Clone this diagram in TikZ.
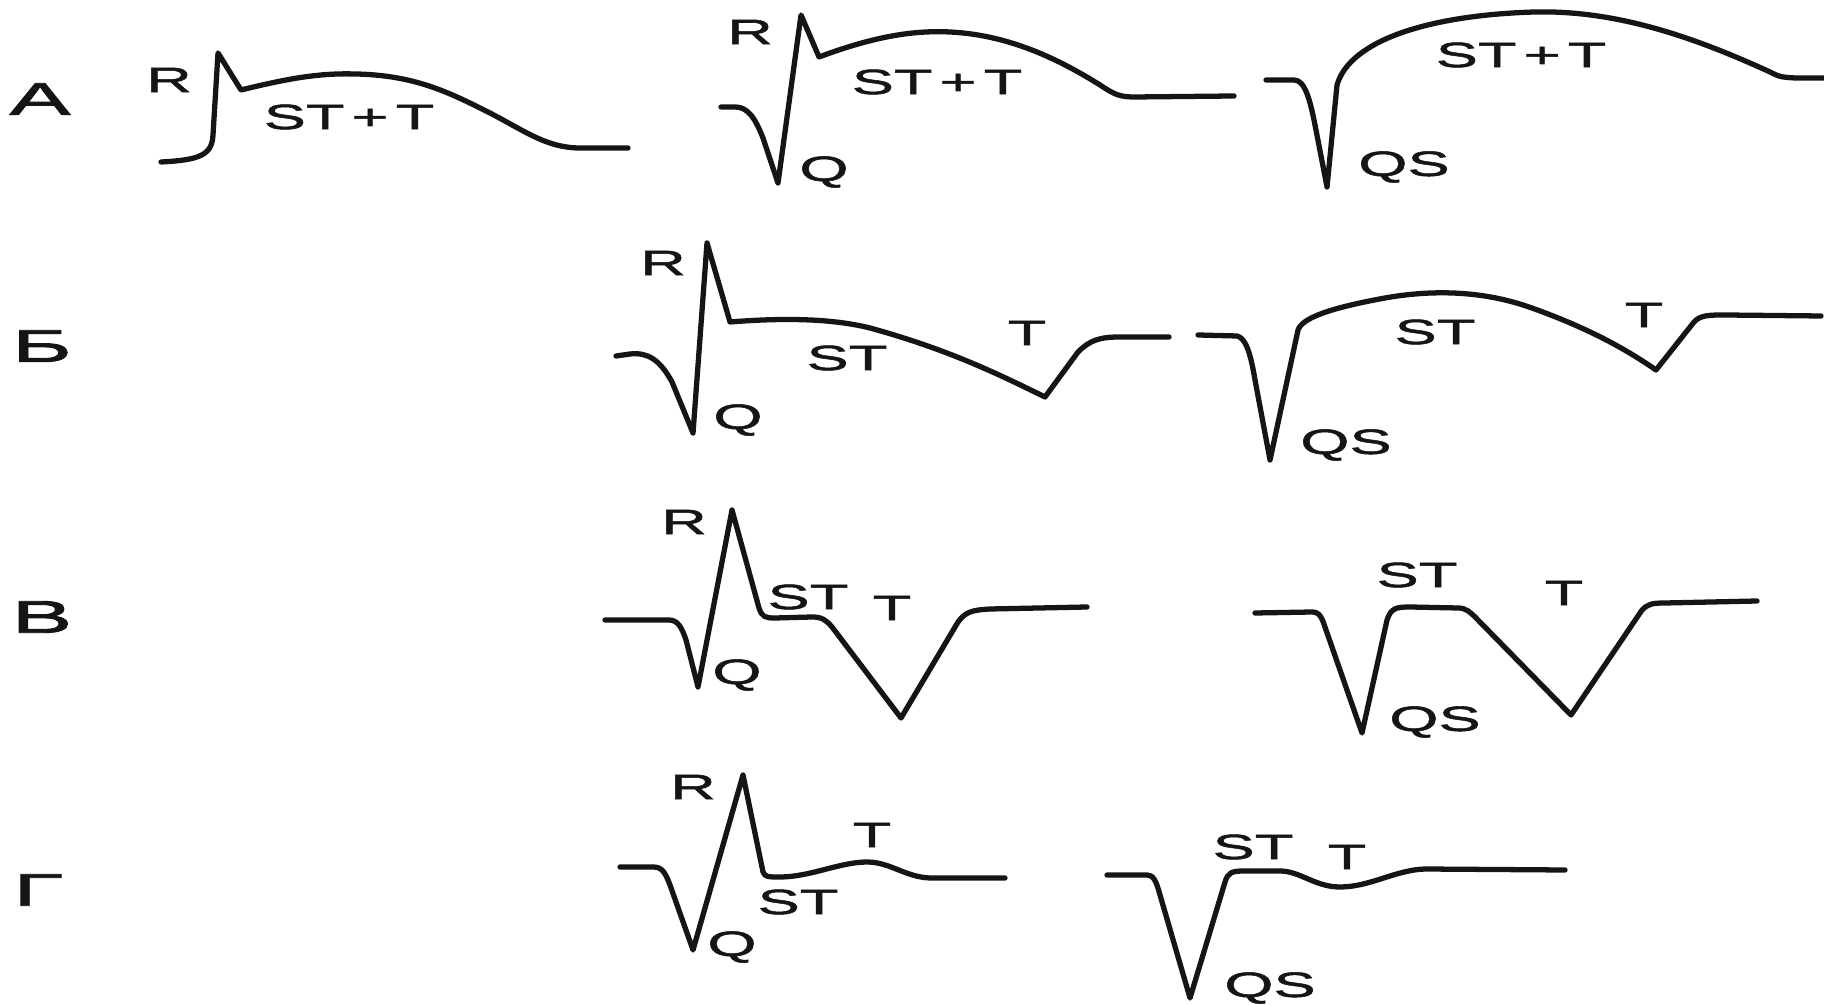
\documentclass[tikz,border=0pt]{standalone}
\usepackage{fontspec}
\usepackage{tikz}
\usetikzlibrary{calc}
\newfontfamily\ecgfont[FakeStretch=1.8, FakeBold=1.5]{Liberation Sans}
\newfontfamily\rowfont[FakeStretch=2.0, FakeBold=2]{Liberation Sans}
\definecolor{ink}{HTML}{151515}

\begin{document}
\begin{tikzpicture}[
    x=0.1mm, y=-0.1mm,
    trace/.style={
        ink,
        line width=1.5pt,
        line join=round,
        line cap=round,
    },
    wave/.style={
        ink,
        inner sep=0pt,
        font=\ecgfont\fontsize{10}{12}\selectfont,
    },
    rowlabel/.style={
        ink,
        inner sep=0pt,
        font=\rowfont\fontsize{13}{15}\selectfont,
    },
]

% Page frame
\useasboundingbox[fill=white] (0,0) rectangle (1824,1005);

% Row labels
\node[rowlabel] (rowA) at (40,99)  {А};
\node[rowlabel] (rowB) at (42,346) {Б};
\node[rowlabel] (rowV) at (42,617) {В};
\node[rowlabel] (rowG) at (38,890) {Г};

% Row A
\draw[trace] (161,162) .. controls (200,160) and (212,155) .. (213,135) -- (218,53) -- (241,90)
    .. controls (290,78) and (320,73) .. (355,74)
    .. controls (415,75) and (450,93) .. (488,112)
    .. controls (525,131) and (545,147) .. (578,148) -- (628,148);
\node[wave] (aOneR) at (169,80) {R};
\node[wave] (aOneST) at (349,117) {ST\kern2pt+\kern2pt T};

\draw[trace] (721,107) -- (735,107) .. controls (748,107) and (755,118) .. (763,138) -- (778,183) -- (801,15) -- (819,57)
    .. controls (870,38) and (910,30) .. (950,32)
    .. controls (1010,35) and (1060,60) .. (1100,85)
    .. controls (1115,95) and (1120,97) .. (1135,97) -- (1234,96);
\node[wave] (aTwoR) at (750,32) {R};
\node[wave] (aTwoST) at (937,82) {ST\kern2pt+\kern2pt T};
\node[wave] (aTwoQ) at (824,172) {Q};

\draw[trace] (1266,80) -- (1294,80) .. controls (1305,80) and (1310,100) .. (1315,125) -- (1327,187) -- (1337,85)
    .. controls (1350,40) and (1430,15) .. (1535,12)
    .. controls (1620,10) and (1700,40) .. (1770,72)
    .. controls (1780,77) .. (1795,78) -- (1824,78);
\node[wave] (aThreeST) at (1521,55) {ST\kern2pt+\kern2pt T};
\node[wave] (aThreeQS) at (1404,167) {QS};

% Row B
\draw[trace] (616,356) -- (630,354) .. controls (648,352) and (660,360) .. (672,382) -- (693,433) -- (707,243) -- (730,322)
    .. controls (780,318) and (830,318) .. (870,328)
    .. controls (950,350) and (1000,375) .. (1045,397) -- (1078,352)
    .. controls (1090,340) and (1100,337) .. (1120,337) -- (1169,337);
\node[wave] (bOneR) at (663,263) {R};
\node[wave] (bOneQ) at (738,420) {Q};
\node[wave] (bOneST) at (847,358) {ST};
\node[wave] (bOneT) at (1027,333) {T};

\draw[trace] (1198,335) -- (1237,336) .. controls (1245,338) and (1250,350) .. (1255,380) -- (1270,460) -- (1298,330)
    .. controls (1302,318) and (1330,308) .. (1385,298)
    .. controls (1430,290) and (1480,290) .. (1529,307)
    .. controls (1580,325) and (1620,345) .. (1656,370) -- (1694,322)
    .. controls (1700,315) and (1710,315) .. (1725,315) -- (1821,316);
\node[wave] (bTwoST) at (1435,332) {ST};
\node[wave] (bTwoT) at (1644,315) {T};
\node[wave] (bTwoQS) at (1346,445) {QS};

% Row V
\draw[trace] (605,620) -- (669,620) .. controls (678,620) and (682,628) .. (686,640) -- (698,687) -- (732,510) -- (759,608)
    .. controls (762,617) and (765,618) .. (775,618) -- (812,617)
    .. controls (822,617) and (826,620) .. (832,627) -- (901,718) -- (958,622)
    .. controls (965,612) and (972,610) .. (990,609) -- (1087,607);
\node[wave] (vOneR) at (684,522) {R};
\node[wave] (vOneQ) at (737,675) {Q};
\node[wave] (vOneST) at (808,597) {ST};
\node[wave] (vOneT) at (892,608) {T};

\draw[trace] (1255,613) -- (1312,612) .. controls (1320,612) and (1322,618) .. (1326,630) -- (1362,733) -- (1387,620)
    .. controls (1391,608) and (1396,607) .. (1410,607) -- (1458,608)
    .. controls (1466,608) and (1470,612) .. (1476,618) -- (1571,715) -- (1642,610)
    .. controls (1648,604) and (1652,603) .. (1665,603) -- (1757,601);
\node[wave] (vTwoST) at (1417,575) {ST};
\node[wave] (vTwoT) at (1564,593) {T};
\node[wave] (vTwoQS) at (1435,722) {QS};

% Row G
\draw[trace] (620,867) -- (653,867) .. controls (662,867) and (665,872) .. (670,885) -- (693,950) -- (743,775) -- (763,872)
    .. controls (765,877) and (768,877) .. (780,877)
    .. controls (810,877) and (840,862) .. (867,862)
    .. controls (890,862) and (905,877) .. (930,878) -- (1005,878);
\node[wave] (gOneR) at (693,787) {R};
\node[wave] (gOneQ) at (732,947) {Q};
\node[wave] (gOneST) at (798,902) {ST};
\node[wave] (gOneT) at (872,835) {T};

\draw[trace] (1107,875) -- (1147,875) .. controls (1153,875) and (1156,880) .. (1160,895) -- (1190,998) -- (1225,882)
    .. controls (1228,872) and (1232,871) .. (1245,871) -- (1280,871)
    .. controls (1300,871) and (1315,887) .. (1340,887)
    .. controls (1370,887) and (1395,870) .. (1425,869) -- (1565,870);
\node[wave] (gTwoST) at (1253,847) {ST};
\node[wave] (gTwoT) at (1347,857) {T};
\node[wave] (gTwoQS) at (1270,988) {QS};

\end{tikzpicture}
\end{document}
